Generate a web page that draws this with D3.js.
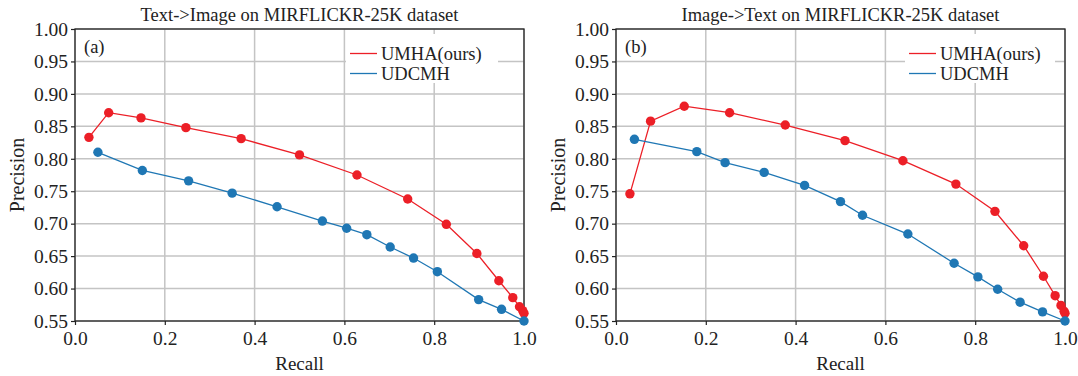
<!DOCTYPE html>
<html>
<head>
<meta charset="utf-8">
<script src="https://d3js.org/d3.v7.min.js"></script>
<style>
  body { margin: 0; background: #fff; }
  text { font-family: "Liberation Serif", "Times New Roman", serif; fill: #222; }
</style>
</head>
<body>
<script>
// recall / precision
var t2iUmha = [[0.031,0.833],[0.075,0.871],[0.147,0.863],[0.247,0.848],[0.370,0.831],[0.500,0.806],
               [0.628,0.775],[0.741,0.738],[0.827,0.699],[0.895,0.654],[0.944,0.612],[0.975,0.586],
               [0.990,0.572],[0.997,0.566],[1.000,0.562]];
var t2iUdcmh = [[0.051,0.810],[0.150,0.782],[0.253,0.766],[0.350,0.747],[0.450,0.726],[0.551,0.704],
               [0.605,0.693],[0.650,0.683],[0.702,0.664],[0.754,0.647],[0.807,0.626],[0.899,0.583],
               [0.950,0.568],[1.000,0.550]];
var i2tUmha = [[0.031,0.746],[0.077,0.858],[0.152,0.881],[0.253,0.871],[0.377,0.852],[0.510,0.828],
               [0.639,0.797],[0.757,0.761],[0.844,0.719],[0.908,0.666],[0.952,0.619],[0.978,0.589],
               [0.991,0.574],[0.998,0.565],[1.000,0.562]];
var i2tUdcmh = [[0.041,0.830],[0.180,0.811],[0.243,0.794],[0.330,0.779],[0.420,0.759],[0.500,0.734],
               [0.549,0.713],[0.650,0.684],[0.753,0.639],[0.806,0.618],[0.850,0.599],[0.900,0.579],
               [0.950,0.564],[1.000,0.550]];

var xTicks = [0, 0.2, 0.4, 0.6, 0.8, 1.0];
var yTicks = [0.55, 0.60, 0.65, 0.70, 0.75, 0.80, 0.85, 0.90, 0.95, 1.00];
var seriesNames = ["UMHA(ours)", "UDCMH"];
var seriesColors = ["#ec1f27", "#1f77b4"];

var W = 1078, H = 376;
var svg = d3.select("body").append("svg")
    .attr("width", W)
    .attr("height", H);

function drawPanel(opts) {
    var x = d3.scaleLinear().domain([0, 1]).range([opts.left, opts.right]);
    var y = d3.scaleLinear().domain([0.55, 1.0]).range([321, 29]);
    var g = svg.append("g");

    // grid
    g.selectAll(".vgrid").data(xTicks).enter().append("line")
        .attr("x1", d => x(d)).attr("x2", d => x(d))
        .attr("y1", y(0.55)).attr("y2", y(1.0))
        .attr("stroke", "#c4c4c4").attr("stroke-width", 1.5);
    g.selectAll(".hgrid").data(yTicks).enter().append("line")
        .attr("x1", x(0)).attr("x2", x(1))
        .attr("y1", d => y(d)).attr("y2", d => y(d))
        .attr("stroke", "#c4c4c4").attr("stroke-width", 1.5);

    // legend background hides the grid
    g.append("rect")
        .attr("x", opts.legendX - 4).attr("y", 34)
        .attr("width", opts.legendW).attr("height", 49)
        .attr("fill", "#fff");

    // frame
    g.append("rect")
        .attr("x", x(0)).attr("y", y(1.0))
        .attr("width", x(1) - x(0)).attr("height", y(0.55) - y(1.0))
        .attr("fill", "none").attr("stroke", "#222").attr("stroke-width", 1.3);

    var xAxis = g.append("g")
        .attr("transform", "translate(0," + y(0.55) + ")")
        .call(d3.axisBottom(x).tickValues(xTicks).tickFormat(d3.format(".1f")).tickSize(4).tickPadding(6));
    var yAxis = g.append("g")
        .attr("transform", "translate(" + x(0) + ",0)")
        .call(d3.axisLeft(y).tickValues(yTicks).tickFormat(d3.format(".2f")).tickSize(4).tickPadding(3));
    [xAxis, yAxis].forEach(a => {
        a.attr("font-family", null).attr("font-size", null);
        a.select(".domain").remove();
        a.selectAll("line").attr("stroke", "#222").attr("stroke-width", 1.2);
        a.selectAll("text").style("font-size", "19.5px").attr("fill", "#222");
    });

    var line = d3.line().x(d => x(d[0])).y(d => y(d[1]));
    opts.series.forEach((s, i) => {
        g.append("path").datum(s)
            .attr("d", line)
            .attr("fill", "none")
            .attr("stroke", seriesColors[i])
            .attr("stroke-width", 1.3);
    });
    opts.series.forEach((s, i) => {
        g.selectAll(".pt" + i).data(s).enter().append("circle")
            .attr("cx", d => x(d[0])).attr("cy", d => y(d[1]))
            .attr("r", 4.7)
            .attr("fill", seriesColors[i]);
    });

    // legend
    seriesNames.forEach((name, i) => {
        var ly = 53.5 + i * 20;
        g.append("line")
            .attr("x1", opts.legendX).attr("x2", opts.legendX + 27)
            .attr("y1", ly).attr("y2", ly)
            .attr("stroke", seriesColors[i]).attr("stroke-width", 1.3);
        g.append("text")
            .attr("x", opts.legendX + 31).attr("y", ly + 6)
            .style("font-size", "18.5px")
            .text(name);
    });

    g.append("text")
        .attr("x", x(0) + 9).attr("y", 53)
        .style("font-size", "18.5px")
        .text(opts.tag);

    g.append("text")
        .attr("x", (x(0) + x(1)) / 2).attr("y", 21)
        .attr("text-anchor", "middle")
        .style("font-size", "18.5px")
        .text(opts.title);

    g.append("text")
        .attr("x", (x(0) + x(1)) / 2).attr("y", 370)
        .attr("text-anchor", "middle")
        .style("font-size", "19px")
        .text("Recall");

    g.append("text")
        .attr("transform", "translate(" + (opts.left - 51) + "," + ((y(0.55) + y(1.0)) / 2) + ") rotate(-90)")
        .attr("text-anchor", "middle")
        .style("font-size", "20px")
        .text("Precision");
}

drawPanel({
    left: 75, right: 524, legendX: 350, legendW: 152,
    series: [t2iUmha, t2iUdcmh], tag: "(a)",
    title: "Text->Image on MIRFLICKR-25K dataset"
});
drawPanel({
    left: 616, right: 1065, legendX: 909, legendW: 150,
    series: [i2tUmha, i2tUdcmh], tag: "(b)",
    title: "Image->Text on MIRFLICKR-25K dataset"
});
</script>
</body>
</html>
